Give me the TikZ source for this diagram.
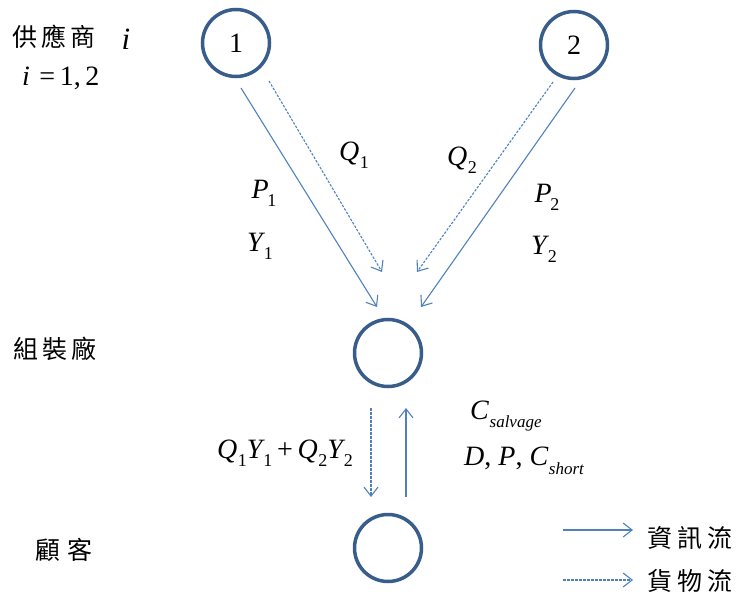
\documentclass[tikz,border=0pt]{standalone}
\usepackage{fontspec}
\setmainfont{Liberation Serif}
\newfontfamily\cjk{Noto Sans CJK TC}
\usetikzlibrary{arrows.meta}
\definecolor{circblue}{RGB}{56,93,138}
\definecolor{arrblue}{RGB}{79,129,189}
\newcommand\vsub[3][0.5pt]{\textit{#2}\kern#1\raisebox{-0.28em}{\fontsize{18}{18}\selectfont #3}}
\tikzset{
  x=1pt, y=-1pt,
  stage/.style={circle, draw=circblue, line width=3.5pt, minimum size=67pt, inner sep=0pt, font=\fontsize{28}{28}\selectfont},
  info/.style={draw=arrblue, line width=1.1pt, -{Straight Barb[length=9pt,width=14pt,line width=1.1pt]}},
  goods/.style={info, dash pattern=on 2.5pt off 1.5pt},
  lbl/.style={inner sep=0pt, font=\fontsize{28}{28}\selectfont},
  cjklbl/.style={inner sep=0pt, anchor=west, font=\cjk\fontsize{25}{25}\selectfont},
}
\begin{document}
\begin{tikzpicture}
\useasboundingbox (0,0) rectangle (742,599);
% stage nodes
\node[stage] (s1) at (236,43) {1};
\node[stage] (s2) at (574,45) {2};
\node[stage] (asm) at (388,353) {};
\node[stage] (cus) at (388,548) {};
% arrow end coordinates
\coordinate (a1s) at (241,88);  \coordinate (a1e) at (377,307);
\coordinate (d1s) at (269,81);  \coordinate (d1e) at (382,272);
\coordinate (d2s) at (553,82);  \coordinate (d2e) at (417,272);
\coordinate (a2s) at (575,88);  \coordinate (a2e) at (421,307);
\coordinate (dds) at (371,408); \coordinate (dde) at (371,497);
\coordinate (ups) at (406,497); \coordinate (upe) at (406,408);
\draw[info] (a1s) -- (a1e);
\draw[goods] (d1s) -- (d1e);
\draw[goods] (d2s) -- (d2e);
\draw[info] (a2s) -- (a2e);
\draw[goods] (dds) -- (dde);
\draw[info] (ups) -- (upe);
% labels
\node[cjklbl] (sup) at (12,37) {供\hspace{4pt}應\hspace{4pt}商};
\node[lbl, font=\fontsize{31}{31}\selectfont] (supi) at (126,39) {\textit{i}};
\node[lbl, anchor=west] (irange) at (22,78) {\textit{i}\,\,=\,1,\,2};
\node[lbl] (q1) at (354,155) {\vsub{Q}{1}};
\node[lbl] (q2) at (462,160) {\vsub{Q}{2}};
\node[lbl] (p1) at (264,193) {\vsub[-1.5pt]{P}{1}};
\node[lbl] (y1) at (260,246) {\vsub[-1.5pt]{Y}{1}};
\node[lbl] (p2) at (547,197) {\vsub[-1.5pt]{P}{2}};
\node[lbl] (y2) at (544,249) {\vsub[-1.5pt]{Y}{2}};
\node[cjklbl] (asmlbl) at (13,349) {組\hspace{4pt}裝\hspace{4pt}廠};
\node[cjklbl] (cuslbl) at (35,550) {顧\hspace{7pt}客};
\node[lbl, anchor=west] (qy) at (217,453) {\vsub{Q}{1}\vsub[-1.5pt]{Y}{1}\,+\,\vsub{Q}{2}\vsub[-1.5pt]{Y}{2}};
\node[lbl, anchor=west] (csal) at (470,416) {\textit{C}\kern0.5pt\raisebox{-0.3em}{\fontsize{17}{17}\selectfont\textit{salvage}}};
\node[lbl, anchor=west] (dpc) at (464,461) {\textit{D}, \textit{P}, \textit{C}\kern0.5pt\raisebox{-0.3em}{\fontsize{17}{17}\selectfont\textit{short}}};
% legend
\coordinate (l1s) at (563,530); \coordinate (l1e) at (633,530);
\coordinate (l2s) at (563,580); \coordinate (l2e) at (633,580);
\draw[info] (l1s) -- (l1e);
\draw[goods] (l2s) -- (l2e);
\node[cjklbl] (leg1) at (647,538) {資\hspace{5pt}訊\hspace{5pt}流};
\node[cjklbl] (leg2) at (647,581) {貨\hspace{5pt}物\hspace{5pt}流};
\end{tikzpicture}
\end{document}
